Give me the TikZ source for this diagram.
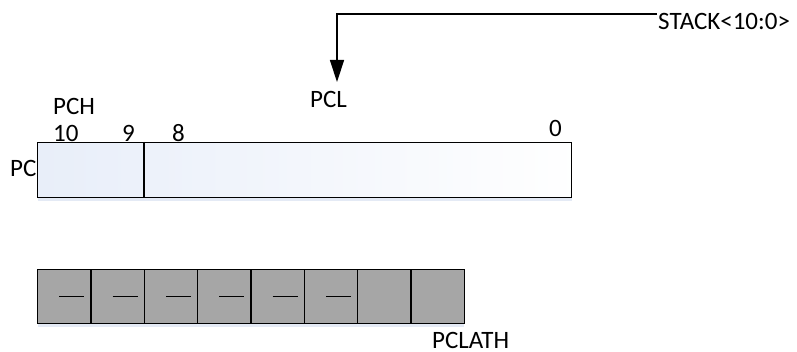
\documentclass[tikz,border=0pt]{standalone}
\usepackage{fontspec}
\setmainfont{Carlito}
\usetikzlibrary{arrows.meta, calc, shadows}

\definecolor{regblue}{RGB}{232,238,249}
\definecolor{reggray}{RGB}{166,166,166}
\definecolor{shadowblue}{RGB}{210,220,238}

\tikzset{
  lbl/.style={inner sep=0pt, anchor=base west, font=\fontsize{25}{29}\selectfont},
  reg/.style={draw, line width=1.4pt, rectangle, inner sep=0pt,
    drop shadow={shadow xshift=0pt, shadow yshift=-3pt, fill=shadowblue, opacity=.6}},
  cell/.style={reg, fill=reggray, minimum width=53.33pt, minimum height=54pt, anchor=north west}
}

\begin{document}
\begin{tikzpicture}[x=1pt,y=-1pt]
\useasboundingbox (0,0) rectangle (797,352);
% Program counter register, 11 bits wide
\node[reg, left color=regblue, right color=white!98!regblue, minimum width=534pt, minimum height=55pt,
  anchor=north west] (pcreg) at (37,142) {};
% Split between PCH and PCL
\coordinate (split) at (144,142);
\draw[line width=1.4pt] (split) -- (split |- pcreg.south);
% Bit numbers and names
\node[lbl] (pch) at (53,115) {PCH};
\node[lbl] (b10) at (53,142) {10};
\node[lbl] (b9) at (122,142) {9};
\node[lbl] (b8) at (172,142) {8};
\node[lbl] (b0) at (549,137) {0};
\node[lbl] (pc) at (10,177) {PC};
% Stack feeds the low byte
\node[lbl] (stack) at (658,30) {STACK<10:0>};
\node[lbl] (pcl) at (310,108) {PCL};
\coordinate (stackend) at (657,14);
\coordinate (pcltip) at (337,82);
\draw[line width=1.4pt, -{Triangle[length=22pt,width=14pt]}] (stackend) -| (pcltip);
% PCLATH register, eight cells
\foreach \i in {0,...,7}
  \node[cell] (c\i) at ({37+53.33*\i},269) {};
% Unimplemented bits
\foreach \i in {0,...,5}
  \draw[line width=1.2pt] ($(c\i.center)+(-5,0)$) -- +(25,0);
\node[lbl] (pclath) at (432,348) {PCLATH};
\end{tikzpicture}
\end{document}
